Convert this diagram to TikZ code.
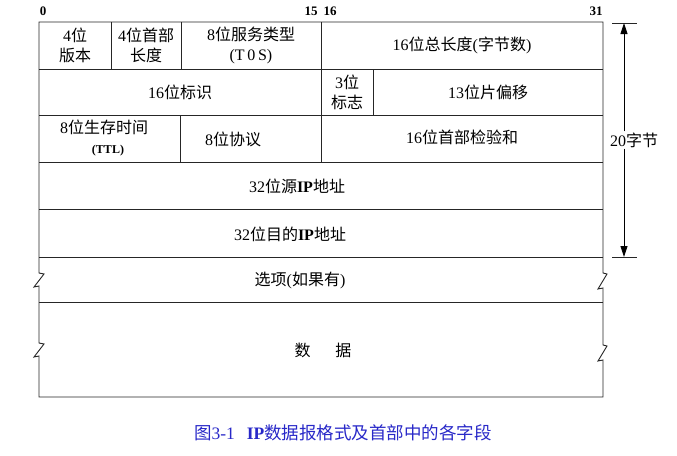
\documentclass[tikz,border=0pt]{standalone}
\usepackage{fontspec}
\setmainfont{Liberation Serif}
\newfontfamily\cjk{Noto Sans CJK SC}
\newcommand\zh[1]{{\cjk #1}}
\usetikzlibrary{arrows.meta}
\definecolor{capblue}{RGB}{40,40,200}

\begin{document}
\begin{tikzpicture}[x=1pt,y=-1pt]
  \tikzset{FieldStyle/.style = {align          = center,
                                inner sep      = 1pt,
                                font           = \fontsize{16}{20}\selectfont}}
  \tikzset{BitStyle/.style   = {inner sep      = 0pt,
                                font           = \fontsize{13}{15}\selectfont\bfseries}}
  \tikzset{GridStyle/.style  = {line width     = 0.9pt,
                                black!85}}
  \tikzset{SizeStyle/.style  = {line width     = 0.9pt,
                                -{Triangle[length=11pt,width=7pt]}}}

\useasboundingbox (0,0) rectangle (677,455);

\coordinate (S1) at (624,23);
\coordinate (S2) at (624,257);

% outline
\draw[GridStyle] (39,397) -- (39,356) -- ++(-5,1) -- ++(10,-13) -- ++(-5,-1)
                 -- (39,286) -- ++(-5,1) -- ++(10,-13) -- ++(-5,-1) -- (39,22) -- (603,22)
                 -- (603,273) -- ++(4,1) -- ++(-9,15) -- ++(5,-1)
                 -- (603,345) -- ++(4,1) -- ++(-9,15) -- ++(5,-1) -- (603,397) -- cycle;

\foreach \y in {69,115,162,209,257,302}
  \draw[GridStyle] (39,\y) -- (603,\y);

\draw[GridStyle] (111,22) -- (111,69);
\draw[GridStyle] (181,22) -- (181,69);
\draw[GridStyle] (321,22) -- (321,162);
\draw[GridStyle] (373,69) -- (373,115);
\draw[GridStyle] (180,115) -- (180,162);

\node[BitStyle] (b0)  at (43,11)  {0};
\node[BitStyle] (b15) at (311,11) {15};
\node[BitStyle] (b16) at (330,11) {16};
\node[BitStyle] (b31) at (596,11) {31};

\node[FieldStyle] (ver)   at (75,45)  {4\zh{位}\\\zh{版本}};
\node[FieldStyle] (ihl)   at (146,45) {4\zh{位首部}\\\zh{长度}};
\node[FieldStyle] (tos)   at (251,45) {8\zh{位服务类型}\\(T\,0\,S)};
\node[FieldStyle] (tlen)  at (462,45) {16\zh{位总长度}(\zh{字节数})};
\node[FieldStyle] (id)    at (180,92) {16\zh{位标识}};
\node[FieldStyle] (flag)  at (347,92) {3\zh{位}\\\zh{标志}};
\node[FieldStyle] (frag)  at (488,92) {13\zh{位片偏移}};
\node[FieldStyle] (ttl)   at (104,138) {8\zh{位生存时间}\\{\fontsize{12}{14}\selectfont\bfseries\,\,\,\,(TTL)}};
\node[FieldStyle] (proto) at (233,139) {8\zh{位协议}};
\node[FieldStyle] (csum)  at (462,137) {16\zh{位首部检验和}};
\node[FieldStyle] (src)   at (297,186) {32\zh{位源}\textbf{IP}\zh{地址}};
\node[FieldStyle] (dst)   at (290,234) {32\zh{位目的}\textbf{IP}\zh{地址}};
\node[FieldStyle] (opt)   at (300,280) {\zh{选项}(\zh{如果有})};
\node[FieldStyle] (data)  at (323,350) {\zh{数}\hspace{25pt}\zh{据}};

\draw[GridStyle] (612,23) -- (637,23);
\draw[GridStyle] (612,257) -- (637,257);
\node[FieldStyle, fill=white] (len) at (634,140) {20\zh{字节}};
\draw[SizeStyle] (S1 |- len.north) -- (S1);
\draw[SizeStyle] (S2 |- len.south) -- (S2);

\node[FieldStyle, text=capblue, font=\fontsize{17.5}{20}\selectfont] (cap) at (343,433)
     {\zh{图}3-1\hspace{12pt}\textbf{IP}\zh{数据报格式及首部中的各字段}};

\end{tikzpicture}
\end{document}
